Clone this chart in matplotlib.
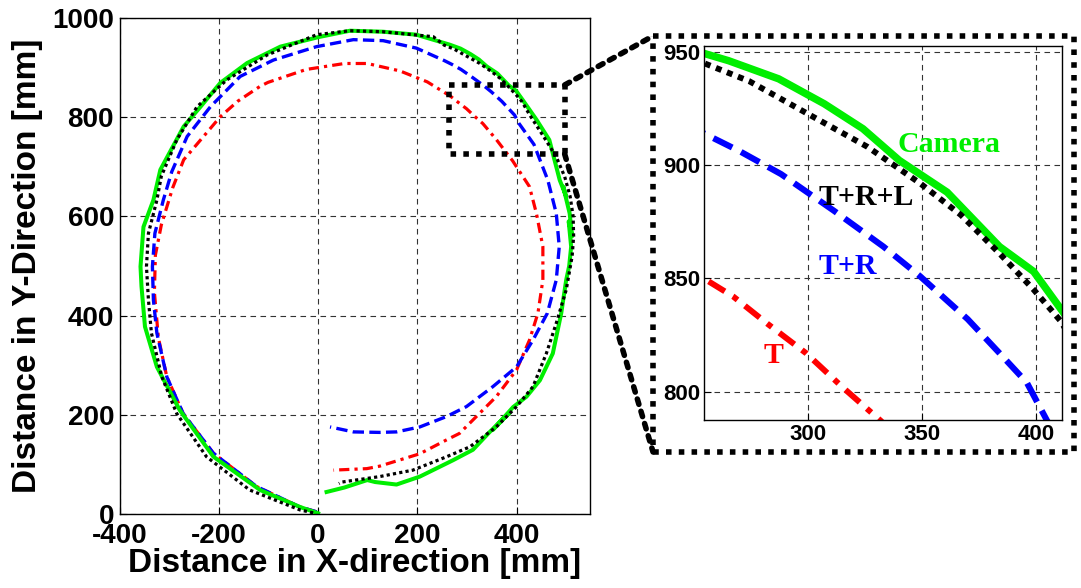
import numpy as np
import matplotlib
matplotlib.use("Agg")
import matplotlib.pyplot as plt
from matplotlib.patches import ConnectionPatch

plt.rcParams['font.family'] = ['Liberation Sans', 'DejaVu Sans']
plt.rcParams['font.weight'] = 'bold'
plt.rcParams['axes.unicode_minus'] = False

# trajectories [mm]
cam_x = [0, -37, -117, -211, -279, -325, -349, -356, -358, -352, -332, -318, -271, -237,
         -197, -143, -76, 0, 64, 131, 198, 265, 287, 307, 324, 340, 361, 384, 399, 412,
         440, 466, 487, 500, 494, 507, 512, 505, 510, 506, 500, 490, 473, 447, 420, 393,
         352, 386, 345, 312, 272, 205, 158, 115, 99, 53, 17]
cam_y = [2, 15, 49, 116, 210, 297, 378, 459, 499, 579, 633, 694, 781, 821,
         869, 909, 942, 961, 974, 972, 966, 946, 938, 927, 916, 902, 888, 864, 853, 835,
         795, 754, 673, 640, 660, 606, 560, 590, 539, 500, 472, 405, 324, 270, 237, 216,
         170, 205, 165, 130, 109, 76, 60, 65, 69, 54, 45]

trl_x = [-10, -37, -138, -225, -285, -315, -336, -342, -346, -342, -325, -316, -285, -244,
         -184, -103, -3, 64, 130, 232, 254, 274, 299, 326, 349, 367, 384, 399, 411, 426,
         455, 480, 497, 508, 514, 515, 512, 505, 500, 480, 460, 433, 400, 359, 306, 259,
         191, 124, 48, 42]
trl_y = [3, 9, 49, 116, 203, 277, 365, 432, 499, 566, 633, 681, 754, 821,
         875, 925, 966, 974, 972, 962, 945, 937, 923, 908, 892, 878, 861, 845, 831, 805,
         760, 720, 680, 640, 600, 560, 520, 480, 452, 385, 324, 257, 217, 176, 136, 116,
         89, 76, 65, 62]

tr_x = [-3, -37, -124, -211, -272, -305, -325, -332, -334, -329, -312, -295, -264, -217,
        -157, -90, -3, 71, 131, 198, 254, 270, 288, 311, 333, 349, 370, 384, 396, 405,
        435, 463, 480, 486, 480, 462, 433, 400, 352, 299, 259, 205, 158, 124, 71, 24]
tr_y = [5, 15, 56, 123, 203, 277, 365, 432, 499, 566, 633, 690, 761, 821,
        882, 915, 942, 956, 954, 939, 914, 906, 896, 880, 864, 851, 832, 817, 804, 787,
        745, 673, 606, 539, 472, 405, 351, 297, 257, 217, 197, 176, 166, 165, 166, 176]

t_x = [-3, -37, -124, -211, -272, -305, -322, -330, -328, -316, -293, -271, -197, -162,
       -117, -101, -24, 53, 99, 165, 220, 254, 267, 282, 299, 315, 332, 359, 392, 426,
       440, 453, 453, 443, 426, 400, 359, 312, 285, 259, 205, 124, 98, 31]
t_y = [5, 15, 56, 123, 203, 277, 356, 447, 522, 583, 658, 714, 801, 832,
       862, 870, 896, 908, 908, 893, 871, 850, 842, 830, 817, 802, 787, 755, 712, 660,
       606, 539, 472, 405, 351, 291, 237, 190, 163, 150, 122, 97, 92, 89]

# zoomed region marked on the main plot and the inset limits
zoom_box = [263.8, 496.9, 725.7, 864.7]
inset_xlim = [254.3, 411.3]
inset_ylim = [787.5, 952.5]

labels = ['Camera', 'T+R+L', 'T+R', 'T']
label_pos = [(339, 905.9), (304.3, 882.3), (304.3, 851.7), (280.2, 812.5)]
colors = ['#00ee00', 'black', 'blue', 'red']

fig = plt.figure(figsize=(10.81, 5.88), dpi=100)
ax = fig.add_axes([0.1107, 0.1253, 0.4351, 0.8444])
axi = fig.add_axes([0.6515, 0.2857, 0.3306, 0.6361])

series = [(cam_x, cam_y), (trl_x, trl_y), (tr_x, tr_y), (t_x, t_y)]


def draw(a, s):
    a.plot(series[3][0], series[3][1], color=colors[3], lw=2.3 * s,
           dashes=(3.2, 1.6, 1, 1.6))
    a.plot(series[2][0], series[2][1], color=colors[2], lw=2.4 * s, dashes=(3.4, 1.6))
    a.plot(series[0][0], series[0][1], color=colors[0], lw=2.9 * s, solid_joinstyle='round')
    a.plot(series[1][0], series[1][1], color=colors[1], lw=2.3 * s, dashes=(1, 1))


draw(ax, 1.0)
draw(axi, 1.85)

grid_kw = dict(color='0.2', linestyle=(0, (5, 4)), linewidth=0.8)

ax.set_xlim(-400, 548)
ax.set_ylim(0, 1000)
ax.set_xticks([-400, -200, 0, 200, 400])
ax.set_yticks([0, 200, 400, 600, 800, 1000])
ax.grid(True, **grid_kw)
ax.tick_params(direction='in', length=5, labelsize=20, pad=4, width=0.8)
ax.tick_params(axis='x', pad=6)
ax.set_xlabel('Distance in X-direction [mm]', fontsize=24, fontweight='bold')
ax.set_ylabel('Distance in Y-Direction [mm]', fontsize=24, fontweight='bold')
ax.xaxis.set_label_coords(0.5, -0.068)
ax.yaxis.set_label_coords(-0.163, 0.5)

# zoom box on the main plot
bx = [zoom_box[0], zoom_box[1], zoom_box[1], zoom_box[0], zoom_box[0]]
by = [zoom_box[3], zoom_box[3], zoom_box[2], zoom_box[2], zoom_box[3]]
ax.plot(bx, by, color='black', lw=4.0, dashes=(1, 1.3))

axi.set_xlim(inset_xlim)
axi.set_ylim(inset_ylim)
axi.set_xticks([300, 350, 400])
axi.set_yticks([800, 850, 900, 950])
axi.grid(True, **grid_kw)
axi.tick_params(direction='in', length=5, labelsize=16, pad=3, width=0.8)

for txt, (px, py), c in zip(labels, label_pos, colors):
    axi.text(px, py, txt, color=c, fontsize=21.5, fontweight='bold',
             family=['Liberation Serif', 'DejaVu Serif'], ha='left', va='baseline')

for a in (ax, axi):
    for sp in a.spines.values():
        sp.set_linewidth(1.0)

# dotted frame around the inset and the connecting lines
fl, fr, fb, ft = 0.6041, 0.9935, 0.2313, 0.9388
fig.add_artist(plt.Line2D([fl, fr, fr, fl, fl], [ft, ft, fb, fb, ft],
                          transform=fig.transFigure, color='black', lw=4.0,
                          dashes=(1, 1.3)))
for yb, yf in [(zoom_box[3], ft), (zoom_box[2], fb)]:
    con = ConnectionPatch(xyA=(zoom_box[1], yb), coordsA='data', axesA=ax,
                          xyB=(fl, yf), coordsB='figure fraction',
                          color='black', lw=4.0, linestyle=(0, (1, 1.3)))
    fig.add_artist(con)

fig.savefig('out.png', dpi=100)
